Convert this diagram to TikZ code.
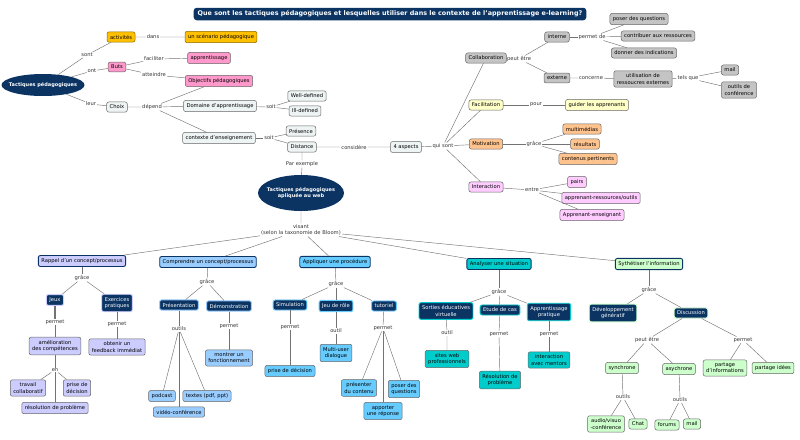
\documentclass[tikz,border=0pt]{standalone}
\usepackage{fontspec}
\setmainfont{DejaVu Sans}
\usetikzlibrary{shapes.geometric}

\definecolor{navy}{HTML}{0B3463}
\definecolor{gold}{HTML}{FFC000}
\definecolor{rose}{HTML}{FF99CC}
\definecolor{pale}{HTML}{EEF3F4}
\definecolor{gris}{HTML}{C4C4C4}
\definecolor{jaune}{HTML}{FFFFC8}
\definecolor{orange}{HTML}{FFC38E}
\definecolor{mauve}{HTML}{FFCCFF}
\definecolor{lav}{HTML}{CCCCFF}
\definecolor{bleuclair}{HTML}{99CCFF}
\definecolor{bleu}{HTML}{66CCFF}
\definecolor{turq}{HTML}{00CCCC}
\definecolor{vert}{HTML}{CCFFCC}

\tikzset{
  petit/.style={font=\fontsize{5.2}{6.4}\selectfont},
  concept/.style={petit, draw=black!60, rounded corners=2pt, inner xsep=3pt,
    inner ysep=3pt, align=center, line width=0.5pt},
  leaf/.style={concept, fill=#1},
  cat/.style={concept, fill=#1, draw=navy, line width=0.9pt},
  sub/.style={concept, fill=navy, draw=#1, text=white, line width=0.9pt},
  lien/.style={petit, inner sep=0.8pt, text=black!80, align=center},
  arc/.style={draw=black!55, line width=0.45pt},
  bulle/.style={ellipse, fill=navy, text=white, inner xsep=-8pt, inner ysep=4pt,
    align=center, font=\fontsize{5}{6.4}\selectfont\bfseries},
  titre/.style={fill=navy, text=white, rounded corners=3pt, inner xsep=4pt,
    inner ysep=3pt, font=\fontsize{6.4}{7.5}\selectfont\bfseries}
}

\begin{document}
\begin{tikzpicture}[x=1pt,y=-1pt]
\useasboundingbox (0,0) rectangle (800,439);

% titre
\node[titre] (titre) at (390,14) {Que sont les tactiques pédagogiques et lesquelles utiliser dans le contexte de l'apprentissage e-learning?};

% partie haute, a gauche
\node[bulle, minimum width=83pt, minimum height=22pt] (tp) at (43,85) {Tactiques pédagogiques};
\node[lien] (l-sont) at (87,55) {sont};
\node[leaf=gold, draw=gold!55!black] (act) at (121,37) {activités};
\node[lien] (l-dans) at (153,37) {dans};
\node[leaf=gold, draw=gold!55!black] (scen) at (221,37) {un scénario pédagogique};
\node[lien] (l-ont) at (92,71) {ont};
\node[leaf=rose] (buts) at (117,67) {Buts};
\node[lien] (l-fac) at (154,59) {faciliter};
\node[leaf=rose] (appr) at (209,58) {apprentissage};
\node[lien] (l-att) at (154,75) {atteindre};
\node[leaf=rose] (obj) at (219,81) {Objectifs pédagogiques};
\node[lien] (l-leur) at (91,104) {leur};
\node[leaf=pale] (choix) at (117,107) {Choix};
\node[lien] (l-dep) at (152,107) {dépend};
\node[leaf=pale] (dom) at (220,106) {Domaine d'apprentissage};
\node[leaf=pale] (ctx) at (219,138) {contexte d'enseignement};
\node[lien] (l-soit1) at (271,107) {soit};
\node[leaf=pale] (well) at (307,96) {Well-defined};
\node[leaf=pale] (ill) at (305,111) {Ill-defined};
\node[lien] (l-soit2) at (269,138) {soit};
\node[leaf=pale] (pres) at (301,131) {Présence};
\node[leaf=pale] (dist) at (302,147) {Distance};
\node[lien] (l-cons) at (354,147) {considère};
\node[leaf=pale] (asp) at (406,147) {4 aspects};
\node[lien] (l-qui) at (443,146) {qui sont};

% les 4 aspects
\node[leaf=gris] (collab) at (486,58) {Collaboration};
\node[lien] (l-peut) at (519,59) {peut être};
\node[leaf=gris] (int) at (557,37) {interne};
\node[lien] (l-perm) at (592,37) {permet de};
\node[leaf=gris] (q1) at (639,19) {poser des questions};
\node[leaf=gris] (q2) at (658,36) {contribuer aux ressources};
\node[leaf=gris] (q3) at (644,53) {donner des indications};
\node[leaf=gris] (ext) at (557,78) {externe};
\node[lien] (l-conc) at (591,78) {concerne};
\node[leaf=gris] (util) at (643,79) {utilisation de\\ressoucres externes};
\node[lien] (l-tels) at (688,78) {tels que};
\node[leaf=gris] (mail1) at (730,70) {mail};
\node[leaf=gris] (conf) at (739,90) {outils de\\conférence};
\node[leaf=jaune] (facil) at (486,105) {Facilitation};
\node[lien] (l-pour) at (536,105) {pour};
\node[leaf=jaune] (guid) at (597,105) {guider les apprenants};
\node[leaf=orange] (motiv) at (486,144) {Motivation};
\node[lien] (l-grace) at (534,144) {grâce};
\node[leaf=orange] (mm) at (582,129) {multimédias};
\node[leaf=orange] (res) at (585,144) {résultats};
\node[leaf=orange] (cont) at (588,159) {contenus pertinents};
\node[leaf=mauve] (inter) at (486,187) {Interaction};
\node[lien] (l-entre) at (532,190) {entre};
\node[leaf=mauve] (pairs) at (577,182) {pairs};
\node[leaf=mauve] (aro) at (601,198) {apprenant-ressources/outils};
\node[leaf=mauve] (ae) at (592,215) {Apprenant-enseignant};

% au web
\node[lien] (l-parex) at (302,164) {Par exemple};
\node[bulle, inner ysep=6pt, minimum width=86pt, minimum height=36pt] (web) at (301,193) {Tactiques pédagogiques\\apliquée au web};
\node[lien] (l-vis) at (301,230) {visant\\(selon la taxonomie de Bloom)};

% Rappel
\node[cat=lav] (rap) at (82,261) {Rappel d'un concept/processus};
\node[lien] (l-g1) at (82,278) {grâce};
\node[sub=lav] (jeux) at (55,300) {Jeux};
\node[sub=lav] (exo) at (117,303) {Exercices\\pratiques};
\node[lien] (l-p1) at (55,322) {permet};
\node[lien] (l-p2) at (117,324) {permet};
\node[leaf=lav] (amel) at (55,346) {amélioration\\des compétences};
\node[leaf=lav] (fb) at (117,347) {obtenir un\\feedback immédiat};
\node[lien] (l-en) at (55,370) {en};
\node[leaf=lav] (trav) at (28,388) {travail\\collaboratif};
\node[leaf=lav] (pdd1) at (77,388) {prise de\\décision};
\node[leaf=lav] (resol1) at (55,408) {résolution de problème};

% Comprendre
\node[cat=bleuclair] (comp) at (208,262) {Comprendre un concept/processus};
\node[lien] (l-g2) at (207,282) {grâce};
\node[sub=bleuclair] (pres2) at (179,305) {Présentation};
\node[sub=bleuclair] (demo) at (229,306) {Démonstration};
\node[lien] (l-out1) at (179,329) {outils};
\node[lien] (l-p3) at (229,326) {permet};
\node[leaf=bleuclair] (montr) at (229,358) {montrer un\\fonctionnement};
\node[leaf=bleuclair] (podc) at (162,396) {podcast};
\node[leaf=bleuclair] (txt) at (207,396) {textes (pdf, ppt)};
\node[leaf=bleuclair] (video) at (179,412) {vidéo-conférence};

% Appliquer
\node[cat=bleu] (appl) at (335,262) {Appliquer une procédure};
\node[lien] (l-g3) at (336,284) {grâce};
\node[sub=bleu] (simu) at (290,305) {Simulation};
\node[sub=bleu] (jdr) at (336,306) {Jeu de rôle};
\node[sub=bleu] (tuto) at (384,306) {tutoriel};
\node[lien] (l-p4) at (290,327) {permet};
\node[lien] (l-out2) at (336,331) {outil};
\node[lien] (l-p5) at (383,328) {permet};
\node[leaf=bleu] (pdd2) at (290,371) {prise de décision};
\node[leaf=bleu] (multi) at (336,353) {Multi-user\\dialogue};
\node[leaf=bleu] (pdc) at (359,388) {présenter\\du contenu};
\node[leaf=bleu] (pdq) at (404,389) {poser des\\questions};
\node[leaf=bleu] (rep) at (383,411) {apporter\\une réponse};

% Analyser
\node[cat=turq] (ana) at (499,264) {Analyser une situation};
\node[lien] (l-g4) at (499,292) {grâce};
\node[sub=turq] (sort) at (446,311) {Sorties éducatives\\virtuelle};
\node[sub=turq] (etude) at (500,310) {Etude de cas};
\node[sub=turq] (appra) at (549,312) {Apprentissage\\pratique};
\node[lien] (l-out3) at (447,333) {outil};
\node[lien] (l-p6) at (499,334) {permet};
\node[lien] (l-p7) at (549,334) {permet};
\node[leaf=turq] (sites) at (447,359) {sites web\\professionnels};
\node[leaf=turq] (resol2) at (500,380) {Résolution de\\problème};
\node[leaf=turq] (ment) at (549,360) {interaction\\avec mentors};

% Synthetiser
\node[cat=vert] (syn) at (649,264) {Sythétiser l'information};
\node[lien] (l-g5) at (649,290) {grâce};
\node[sub=vert] (dev) at (613,313) {Développement\\génératif};
\node[sub=vert] (disc) at (691,313) {Discussion};
\node[lien] (l-peut2) at (647,340) {peut être};
\node[lien] (l-p8) at (743,340) {permet};
\node[leaf=vert] (sync) at (622,368) {synchrone};
\node[leaf=vert] (async) at (679,369) {asychrone};
\node[leaf=vert] (pinfo) at (725,368) {partage\\d'informations};
\node[leaf=vert] (pid) at (773,368) {partage idées};
\node[lien] (l-out4) at (623,397) {outils};
\node[lien] (l-out5) at (680,400) {outils};
\node[leaf=vert] (audio) at (606,424) {audio/visuo\\-conférence};
\node[leaf=vert] (chat) at (638,424) {Chat};
\node[leaf=vert] (forum) at (667,425) {forums};
\node[leaf=vert] (mail2) at (692,424) {mail};

% liens du haut
\draw[arc] (tp) -- (l-sont) -- (act) -- (l-dans) -- (scen);
\draw[arc] (tp) -- (l-ont) -- (buts);
\draw[arc] (buts) -- (l-fac) -- (appr);
\draw[arc] (buts) -- (l-att) -- (obj);
\draw[arc] (tp) -- (l-leur) -- (choix) -- (l-dep);
\foreach \t in {obj,dom,ctx} \draw[arc] (l-dep) -- (\t);
\draw[arc] (dom) -- (l-soit1);
\foreach \t in {well,ill} \draw[arc] (l-soit1) -- (\t);
\draw[arc] (ctx) -- (l-soit2);
\foreach \t in {pres,dist} \draw[arc] (l-soit2) -- (\t);
\draw[arc] (dist) -- (l-cons) -- (asp) -- (l-qui);
\foreach \t in {collab,facil,motiv,inter} \draw[arc] (l-qui) -- (\t);
\draw[arc] (collab) -- (l-peut);
\foreach \t in {int,ext} \draw[arc] (l-peut) -- (\t);
\draw[arc] (int) -- (l-perm);
\foreach \t in {q1,q2,q3} \draw[arc] (l-perm) -- (\t);
\draw[arc] (ext) -- (l-conc) -- (util) -- (l-tels);
\foreach \t in {mail1,conf} \draw[arc] (l-tels) -- (\t);
\draw[arc] (facil) -- (l-pour) -- (guid);
\draw[arc] (motiv) -- (l-grace);
\foreach \t in {mm,res,cont} \draw[arc] (l-grace) -- (\t);
\draw[arc] (inter) -- (l-entre);
\foreach \t in {pairs,aro,ae} \draw[arc] (l-entre) -- (\t);

% liens du bas
\draw[arc] (dist) -- (l-parex) -- (web) -- (l-vis);
\foreach \t in {rap,comp,appl,ana,syn} \draw[arc] (l-vis) -- (\t);
\draw[arc] (rap) -- (l-g1);
\foreach \t in {jeux,exo} \draw[arc] (l-g1) -- (\t);
\draw[arc, line width=1.2pt] (jeux) -- (l-p1);
\draw[arc] (l-p1) -- (amel) -- (l-en);
\draw[arc] (exo) -- (l-p2) -- (fb);
\foreach \t in {trav,pdd1,resol1} \draw[arc] (l-en) -- (\t);
\draw[arc] (comp) -- (l-g2);
\foreach \t in {pres2,demo} \draw[arc] (l-g2) -- (\t);
\draw[arc] (pres2) -- (l-out1);
\foreach \t in {podc,txt,video} \draw[arc] (l-out1) -- (\t);
\draw[arc] (demo) -- (l-p3) -- (montr);
\draw[arc] (appl) -- (l-g3);
\foreach \t in {simu,jdr,tuto} \draw[arc] (l-g3) -- (\t);
\draw[arc] (simu) -- (l-p4) -- (pdd2);
\draw[arc] (jdr) -- (l-out2) -- (multi);
\draw[arc] (tuto) -- (l-p5);
\foreach \t in {pdc,pdq,rep} \draw[arc] (l-p5) -- (\t);
\draw[arc] (ana) -- (l-g4);
\foreach \t in {sort,etude,appra} \draw[arc] (l-g4) -- (\t);
\draw[arc] (sort) -- (l-out3) -- (sites);
\draw[arc] (etude) -- (l-p6) -- (resol2);
\draw[arc] (appra) -- (l-p7) -- (ment);
\draw[arc] (syn) -- (l-g5);
\foreach \t in {dev,disc} \draw[arc] (l-g5) -- (\t);
\draw[arc] (disc) -- (l-peut2);
\foreach \t in {sync,async} \draw[arc] (l-peut2) -- (\t);
\draw[arc] (disc) -- (l-p8);
\foreach \t in {pinfo,pid} \draw[arc] (l-p8) -- (\t);
\draw[arc] (sync) -- (l-out4);
\foreach \t in {audio,chat} \draw[arc] (l-out4) -- (\t);
\draw[arc] (async) -- (l-out5);
\foreach \t in {forum,mail2} \draw[arc] (l-out5) -- (\t);
\end{tikzpicture}
\end{document}
